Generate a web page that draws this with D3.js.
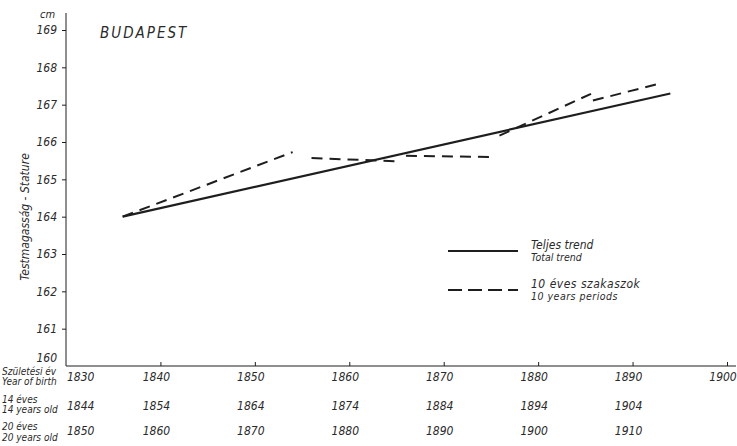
<!DOCTYPE html>
<html><head><meta charset="utf-8">
<script src="https://cdn.jsdelivr.net/npm/d3@7"></script>
<style>
body{margin:0;background:#fff;}
text{font-family:"Liberation Sans Narrow","DejaVu Sans Condensed","Liberation Sans",sans-serif;font-style:italic;fill:#2a2a2a;}
</style></head>
<body><svg id="c" width="737" height="446"></svg>
<script>
// Data
const yearTicks = [1830,1840,1850,1860,1870,1880,1890,1900];
const age14Labels = [1844,1854,1864,1874,1884,1894,1904];
const age20Labels = [1850,1860,1870,1880,1890,1900,1910];
const yTicks = [160,161,162,163,164,165,166,167,168,169];
const totalTrendYears = [1836,1894];
const totalTrendValues = [164.0,167.3];
const periodYears = [[1836,1854],[1856,1865.3],[1866,1875],[1875.9,1885.6],[1885.8,1892.6]];
const periodValues = [[164.0,165.73],[165.57,165.48],[165.63,165.6],[166.17,167.29],[167.11,167.55]];

const svg = d3.select("#c");
const x = d3.scaleLinear().domain([1830,1900]).range([66,727]);
const y = d3.scaleLinear().domain([160,169]).range([366,30]);
const ink = "#1e1e1e";

// Y axis
const yAxis = d3.axisLeft(y).tickValues(yTicks).tickSize(4).tickPadding(5).tickFormat(d=>d);
const gy = svg.append("g").attr("transform","translate(66,0)").call(yAxis);
gy.select(".domain").remove();
gy.selectAll(".tick line").attr("stroke",ink).attr("stroke-width",1);
gy.selectAll(".tick text").style("font-size","12px").attr("fill","#333")
  .attr("dy",d=> d===160 ? "-0.35em" : "0.32em");
gy.selectAll(".tick").filter(d=>d===160).select("line").remove();
svg.append("line").attr("x1",66).attr("x2",66).attr("y1",13).attr("y2",366).attr("stroke",ink).attr("stroke-width",1);

// X axis
const xAxis = d3.axisBottom(x).tickValues(yearTicks).tickSize(-4).tickFormat("");
const gx = svg.append("g").attr("transform","translate(0,366)").call(xAxis);
gx.select(".domain").remove();
gx.selectAll(".tick line").attr("stroke",ink).attr("stroke-width",1);
gx.selectAll(".tick").filter(d=>d===1830).select("line").remove();
svg.append("line").attr("x1",66).attr("x2",736).attr("y1",366).attr("y2",366).attr("stroke",ink).attr("stroke-width",1);

// X label rows
function row(vals, yy){
  svg.append("g").selectAll("text").data(vals).join("text")
    .attr("x",(d,i)=> i===0 ? x(1830)+1 : x(yearTicks[i])-4)
    .attr("y",yy)
    .attr("text-anchor",(d,i)=> i===0 ? "start" : "middle")
    .style("font-size","12px").attr("fill","#333")
    .text(d=>d);
}
row(yearTicks, 381);
row(age14Labels, 410);
row(age20Labels, 435);

const small = [
  ["Születési év",2,375],["Year of birth",2,385],
  ["14 éves",2,403],["14 years old",2,413],
  ["20 éves",2,430],["20 years old",2,441]
];
svg.append("g").selectAll("text").data(small).join("text")
  .attr("x",d=>d[1]).attr("y",d=>d[2]).style("font-size","10px").text(d=>d[0]);

// cm & y title
svg.append("text").attr("x",40).attr("y",18).style("font-size","11px").text("cm");
svg.append("text").attr("transform","translate(29,217) rotate(-90)").attr("text-anchor","middle")
  .style("font-size","12px").text("Testmagasság - Stature");

// Title
svg.append("text").attr("x",100).attr("y",38).style("font-size","15px").style("letter-spacing","2px").text("BUDAPEST");

// Total trend
svg.append("line")
  .attr("x1",x(totalTrendYears[0])).attr("y1",y(totalTrendValues[0]))
  .attr("x2",x(totalTrendYears[1])).attr("y2",y(totalTrendValues[1]))
  .attr("stroke",ink).attr("stroke-width",2.2);

// Period segments
svg.append("g").selectAll("line").data(periodYears).join("line")
  .attr("x1",(d)=>x(d[0])).attr("x2",d=>x(d[1]))
  .attr("y1",(d,i)=>y(periodValues[i][0])).attr("y2",(d,i)=>y(periodValues[i][1]))
  .attr("stroke",ink).attr("stroke-width",2).attr("stroke-dasharray","11,7");

// Legend
const lg = svg.append("g");
lg.append("line").attr("x1",448).attr("x2",518).attr("y1",251).attr("y2",251).attr("stroke",ink).attr("stroke-width",2.2);
lg.append("line").attr("x1",448).attr("x2",518).attr("y1",290).attr("y2",290).attr("stroke",ink).attr("stroke-width",2).attr("stroke-dasharray","14,6");
lg.append("text").attr("x",531).attr("y",249).style("font-size","12px").text("Teljes trend");
lg.append("text").attr("x",531).attr("y",261).style("font-size","10.5px").text("Total trend");
lg.append("text").attr("x",531).attr("y",288).style("font-size","12px").style("letter-spacing","0.5px").text("10 éves szakaszok");
lg.append("text").attr("x",531).attr("y",300).style("font-size","10.5px").style("letter-spacing","0.5px").text("10 years periods");
</script></body></html>
